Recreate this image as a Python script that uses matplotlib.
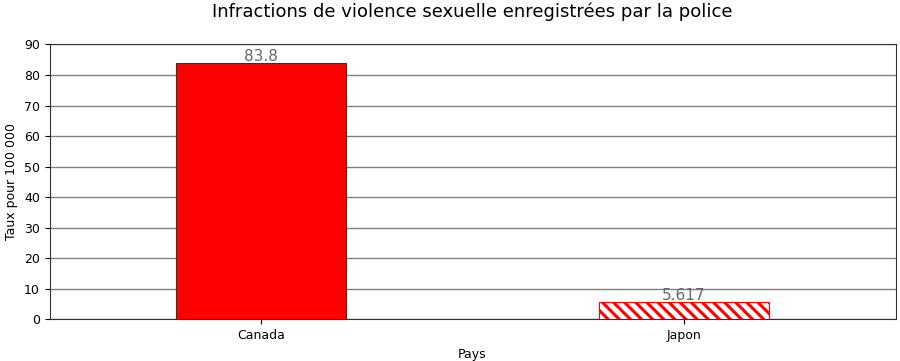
import matplotlib
matplotlib.use('Agg')
import matplotlib.pyplot as plt

pays = ['Canada', 'Japon']
taux = [83.8, 5.617]
etiquettes = ['83.8', '5.617']

plt.rcParams['hatch.color'] = 'red'
plt.rcParams['hatch.linewidth'] = 2.2

fig, ax = plt.subplots(figsize=(9, 3.61), dpi=100)
x = range(len(pays))
bars = ax.bar(x, taux, width=0.4, zorder=3)
bars[0].set_facecolor('red')
bars[0].set_edgecolor('#333333')
bars[0].set_linewidth(0.8)
bars[1].set_facecolor('white')
bars[1].set_edgecolor('red')
bars[1].set_hatch('\\\\\\')
bars[1].set_linewidth(0.8)

for xi, v, lab in zip(x, taux, etiquettes):
    ax.text(xi, v - 0.3, lab, ha='center', va='bottom', color='#666666', fontsize=11, zorder=4)

ax.set_xticks(list(x))
ax.set_xticklabels(pays)
ax.set_xlim(-0.5, 1.5)
ax.set_ylim(0, 90)
ax.set_yticks(range(0, 91, 10))
ax.yaxis.grid(True, color='gray', linewidth=1, zorder=0)
ax.set_axisbelow(True)
ax.set_ylabel('Taux pour 100 000', fontsize=9)
ax.set_xlabel('Pays', fontsize=9)
ax.set_title('Infractions de violence sexuelle enregistrées par la police', fontsize=13, pad=20)
ax.tick_params(labelsize=9)
for s in ax.spines.values():
    s.set_color('#333333')

fig.subplots_adjust(left=0.055, right=0.995, top=0.877, bottom=0.115)
fig.savefig('out.png')
